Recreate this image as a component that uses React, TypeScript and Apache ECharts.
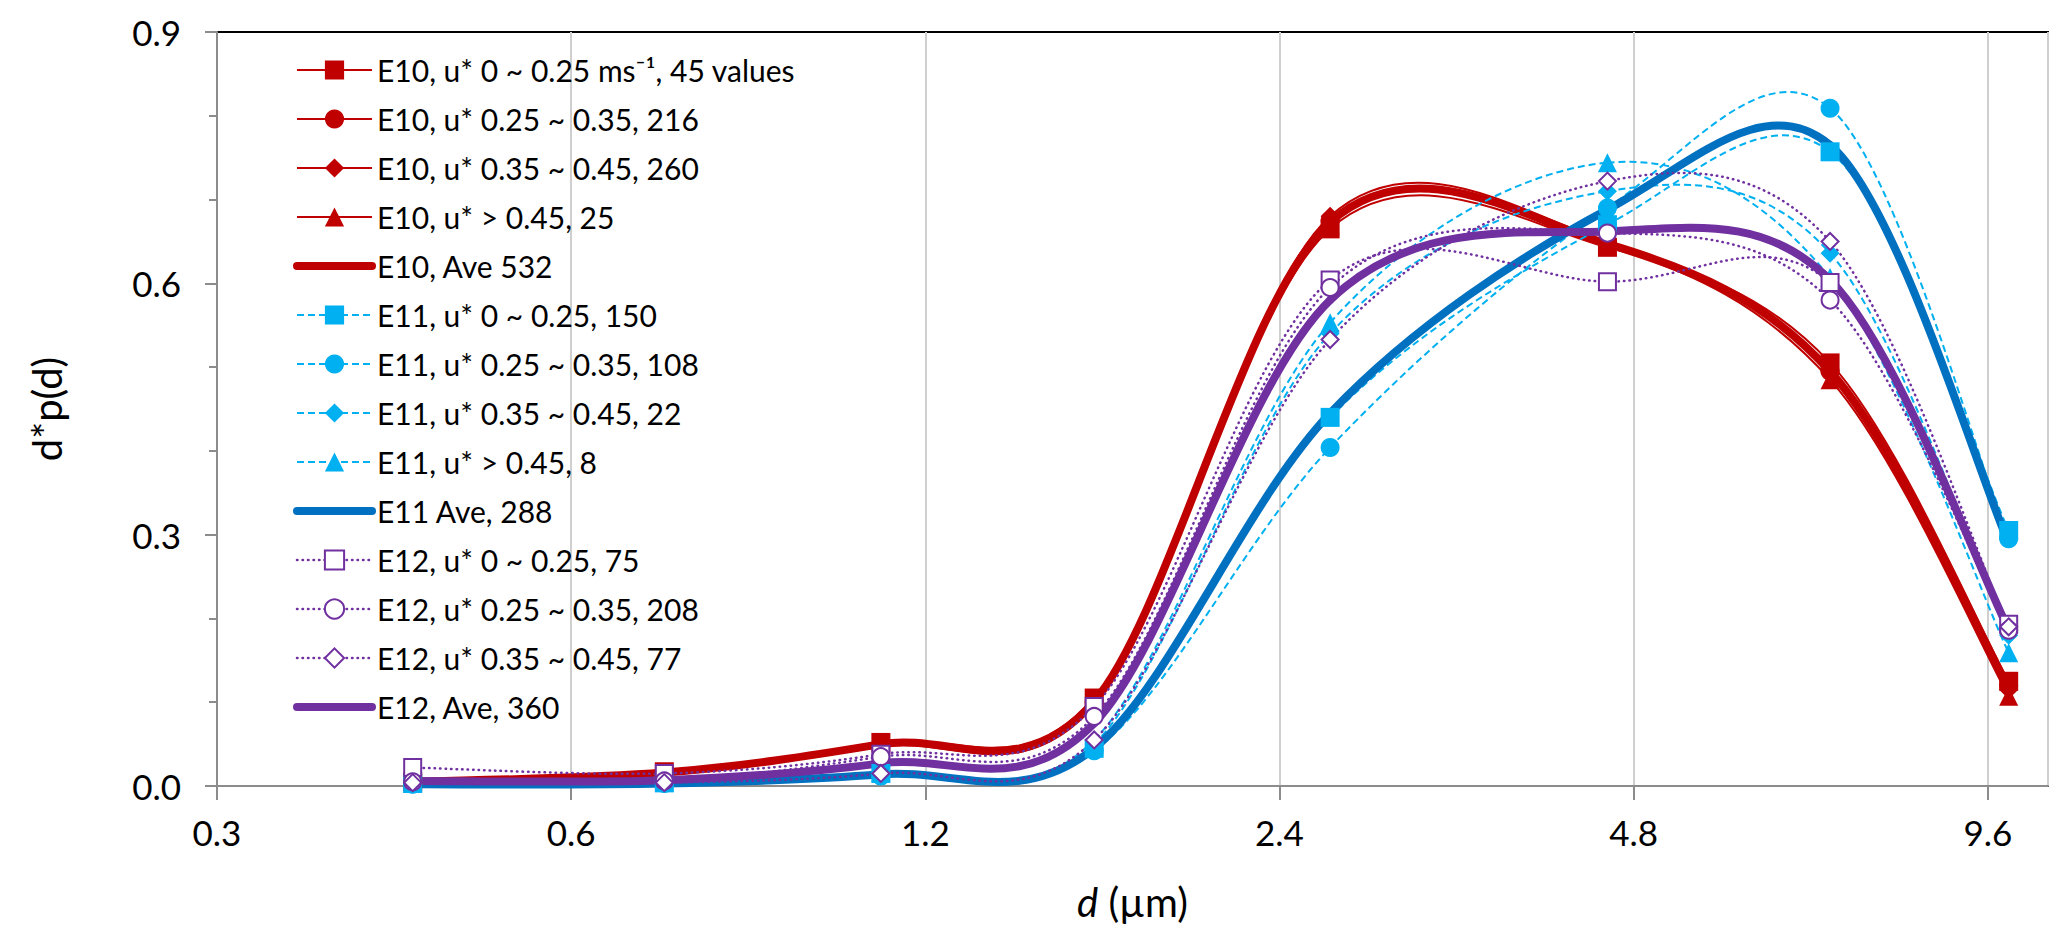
import React, { useEffect, useRef } from "react";
import * as echarts from "echarts";

// particle size bins (µm) and axis ticks
const binDiameters = [0.44, 0.72, 1.1, 1.67, 2.65, 4.56, 7.05, 10.0];
const xTickLabels = ["0.3", "0.6", "1.2", "2.4", "4.8", "9.6"];
const X_MIN = 0.3;
const X_MAX = 10.8;

// E10
const e10Low = [0.005, 0.017, 0.052, 0.105, 0.665, 0.643, 0.505, 0.125];
const e10Mid = [0.004, 0.015, 0.048, 0.1, 0.675, 0.648, 0.495, 0.12];
const e10High = [0.004, 0.014, 0.047, 0.098, 0.68, 0.65, 0.493, 0.115];
const e10Top = [0.005, 0.015, 0.05, 0.1, 0.67, 0.645, 0.485, 0.107];
const e10Ave = [0.005, 0.016, 0.05, 0.101, 0.673, 0.647, 0.495, 0.117];

// E11
const e11Low = [0.003, 0.004, 0.015, 0.045, 0.44, 0.67, 0.757, 0.305];
const e11Mid = [0.002, 0.003, 0.012, 0.042, 0.404, 0.69, 0.809, 0.295];
const e11High = [0.002, 0.003, 0.014, 0.05, 0.54, 0.71, 0.636, 0.18];
const e11Top = [0.003, 0.004, 0.016, 0.055, 0.553, 0.744, 0.607, 0.159];
const e11Ave = [0.002, 0.003, 0.014, 0.045, 0.445, 0.688, 0.765, 0.29];

// E12
const e12Low = [0.022, 0.015, 0.038, 0.095, 0.604, 0.602, 0.601, 0.193];
const e12Mid = [0.005, 0.006, 0.035, 0.083, 0.595, 0.66, 0.58, 0.186];
const e12High = [0.004, 0.004, 0.015, 0.055, 0.533, 0.722, 0.65, 0.19];
const e12Ave = [0.006, 0.007, 0.027, 0.075, 0.58, 0.662, 0.604, 0.187];

const RED = "#C00000";
const CYAN = "#00B0F0";
const BLUE = "#0070C0";
const PURPLE = "#7030A0";

const FONT = "Lato, 'Open Sans', sans-serif";

type Def = {
  name: string;
  values: number[];
  color: string;
  symbol: string;
  dash: "solid" | "dashed" | "dotted";
  ave?: boolean;
};

const SERIES: Def[] = [
  { name: "E10, u* 0 ~ 0.25 ms\u207B\u00B9, 45 values", values: e10Low, color: RED, symbol: "rect", dash: "solid" },
  { name: "E10, u* 0.25 ~ 0.35, 216", values: e10Mid, color: RED, symbol: "circle", dash: "solid" },
  { name: "E10, u* 0.35 ~ 0.45, 260", values: e10High, color: RED, symbol: "diamond", dash: "solid" },
  { name: "E10, u* > 0.45, 25", values: e10Top, color: RED, symbol: "triangle", dash: "solid" },
  { name: "E10, Ave 532", values: e10Ave, color: RED, symbol: "none", dash: "solid", ave: true },
  { name: "E11, u* 0 ~ 0.25, 150", values: e11Low, color: CYAN, symbol: "rect", dash: "dashed" },
  { name: "E11, u* 0.25 ~ 0.35, 108", values: e11Mid, color: CYAN, symbol: "circle", dash: "dashed" },
  { name: "E11, u* 0.35 ~ 0.45, 22", values: e11High, color: CYAN, symbol: "diamond", dash: "dashed" },
  { name: "E11, u* > 0.45, 8", values: e11Top, color: CYAN, symbol: "triangle", dash: "dashed" },
  { name: "E11 Ave, 288", values: e11Ave, color: BLUE, symbol: "none", dash: "solid", ave: true },
  { name: "E12, u* 0 ~ 0.25, 75", values: e12Low, color: PURPLE, symbol: "emptyRect", dash: "dotted" },
  { name: "E12, u* 0.25 ~ 0.35, 208", values: e12Mid, color: PURPLE, symbol: "emptyCircle", dash: "dotted" },
  { name: "E12, u* 0.35 ~ 0.45, 77", values: e12High, color: PURPLE, symbol: "emptyDiamond", dash: "dotted" },
  { name: "E12, Ave, 360", values: e12Ave, color: PURPLE, symbol: "none", dash: "solid", ave: true },
];

const toX = (d: number) => Math.log2(d / X_MIN);

const strokeOf = (s: Def) => ({
  width: s.ave ? 8 : s.dash === "dotted" ? 2.5 : 2,
  dash: s.dash === "dashed" ? [7, 4] : s.dash === "dotted" ? [0.5, 5] : null,
  cap: s.ave || s.dash === "dotted" ? "round" : "butt",
});

// Excel-like smoothed segment (Catmull-Rom through the projected points)
const makeRenderItem = (s: Def) => (params: any, api: any) => {
  const i = params.dataIndexInside;
  const n = params.dataInsideLength;
  if (i >= n - 1) return null;
  const pt = (k: number) => {
    const j = Math.max(0, Math.min(n - 1, k));
    return api.coord([api.value(0, j), api.value(1, j)]);
  };
  const p0 = pt(i - 1);
  const p1 = pt(i);
  const p2 = pt(i + 1);
  const p3 = pt(i + 2);
  const st = strokeOf(s);
  return {
    type: "bezierCurve",
    silent: true,
    shape: {
      x1: p1[0],
      y1: p1[1],
      x2: p2[0],
      y2: p2[1],
      cpx1: p1[0] + (p2[0] - p0[0]) / 6,
      cpy1: p1[1] + (p2[1] - p0[1]) / 6,
      cpx2: p2[0] - (p3[0] - p1[0]) / 6,
      cpy2: p2[1] - (p3[1] - p1[1]) / 6,
    },
    style: {
      stroke: s.color,
      fill: null,
      lineWidth: st.width,
      lineDash: st.dash,
      lineCap: st.cap,
    },
  };
};

const App = () => {
  const chartRef = useRef<HTMLDivElement>(null);

  useEffect(() => {
    document.body.style.margin = "0";
    const chart = echarts.init(chartRef.current, null, { renderer: "svg" });

    const series: any[] = [];
    SERIES.forEach((s) => {
      const points = binDiameters.map((d, i) => [toX(d), s.values[i]]);
      series.push({
        name: s.name + " curve",
        type: "custom",
        data: points,
        encode: { x: 0, y: 1 },
        renderItem: makeRenderItem(s),
        silent: true,
      });
      series.push({
        name: s.name,
        type: "line",
        data: points,
        symbol: s.symbol,
        symbolSize: s.symbol.startsWith("empty") ? 17 : 19,
        showSymbol: s.symbol !== "none",
        lineStyle: { color: s.color, opacity: 0 },
        itemStyle: { color: s.color },
        emphasis: { disabled: true },
        silent: true,
      });
    });

    const options = {
      animation: false,
      backgroundColor: "#fff",
      textStyle: { fontFamily: FONT },
      grid: {
        left: 217,
        right: 19,
        top: 32,
        bottom: 154,
        show: true,
        borderColor: "#000",
        borderWidth: 2,
        outerBoundsMode: "none",
      },
      legend: {
        orient: "vertical",
        left: 288,
        top: 50,
        itemWidth: 75,
        itemHeight: 24,
        itemGap: 19,
        selectedMode: false,
        textStyle: { fontFamily: FONT, fontSize: 30, color: "#000", lineHeight: 30 },
        data: SERIES.map((s) => {
          const st = strokeOf(s);
          return {
            name: s.name,
            lineStyle: {
              color: s.color,
              width: st.width,
              type: st.dash ?? "solid",
              cap: st.cap,
              opacity: 1,
            },
            itemStyle: s.ave ? { opacity: 0 } : undefined,
          };
        }),
      },
      xAxis: {
        type: "value",
        min: 0,
        max: toX(X_MAX),
        interval: 1,
        name: "{i|d} (µm)",
        nameLocation: "middle",
        nameGap: 96,
        nameTextStyle: {
          fontFamily: FONT,
          fontSize: 40,
          color: "#000",
          rich: { i: { fontFamily: FONT, fontSize: 40, fontStyle: "italic", color: "#000" } },
        },
        axisLine: { show: true, onZero: false, lineStyle: { color: "#8c8c8c", width: 2 } },
        axisTick: { show: true, length: 14, lineStyle: { color: "#8c8c8c", width: 2 } },
        axisLabel: {
          fontFamily: FONT,
          fontSize: 35,
          color: "#000",
          margin: 28,
          showMaxLabel: false,
          formatter: (v: number) =>
            Math.abs(v - Math.round(v)) < 1e-6 ? xTickLabels[Math.round(v)] ?? "" : "",
        },
        splitLine: { show: true, lineStyle: { color: "#cfcfcf", width: 2 } },
      },
      yAxis: {
        type: "value",
        min: 0,
        max: 0.9,
        interval: 0.3,
        name: "d*p(d)",
        nameLocation: "middle",
        nameGap: 150,
        nameTextStyle: { fontFamily: FONT, fontSize: 40, color: "#000" },
        axisLine: { show: true, lineStyle: { color: "#8c8c8c", width: 2 } },
        axisTick: { show: true, length: 12, lineStyle: { color: "#8c8c8c", width: 2 } },
        minorTick: { show: true, splitNumber: 3, length: 8, lineStyle: { color: "#8c8c8c", width: 2 } },
        axisLabel: {
          fontFamily: FONT,
          fontSize: 35,
          color: "#000",
          margin: 36,
          formatter: (v: number) => v.toFixed(1),
        },
        splitLine: { show: false },
      },
      series,
    };

    chart.setOption(options);
    return () => {
      chart.dispose();
    };
  }, []);

  return <div ref={chartRef} style={{ width: 2067, height: 940 }} />;
};

export default App;
